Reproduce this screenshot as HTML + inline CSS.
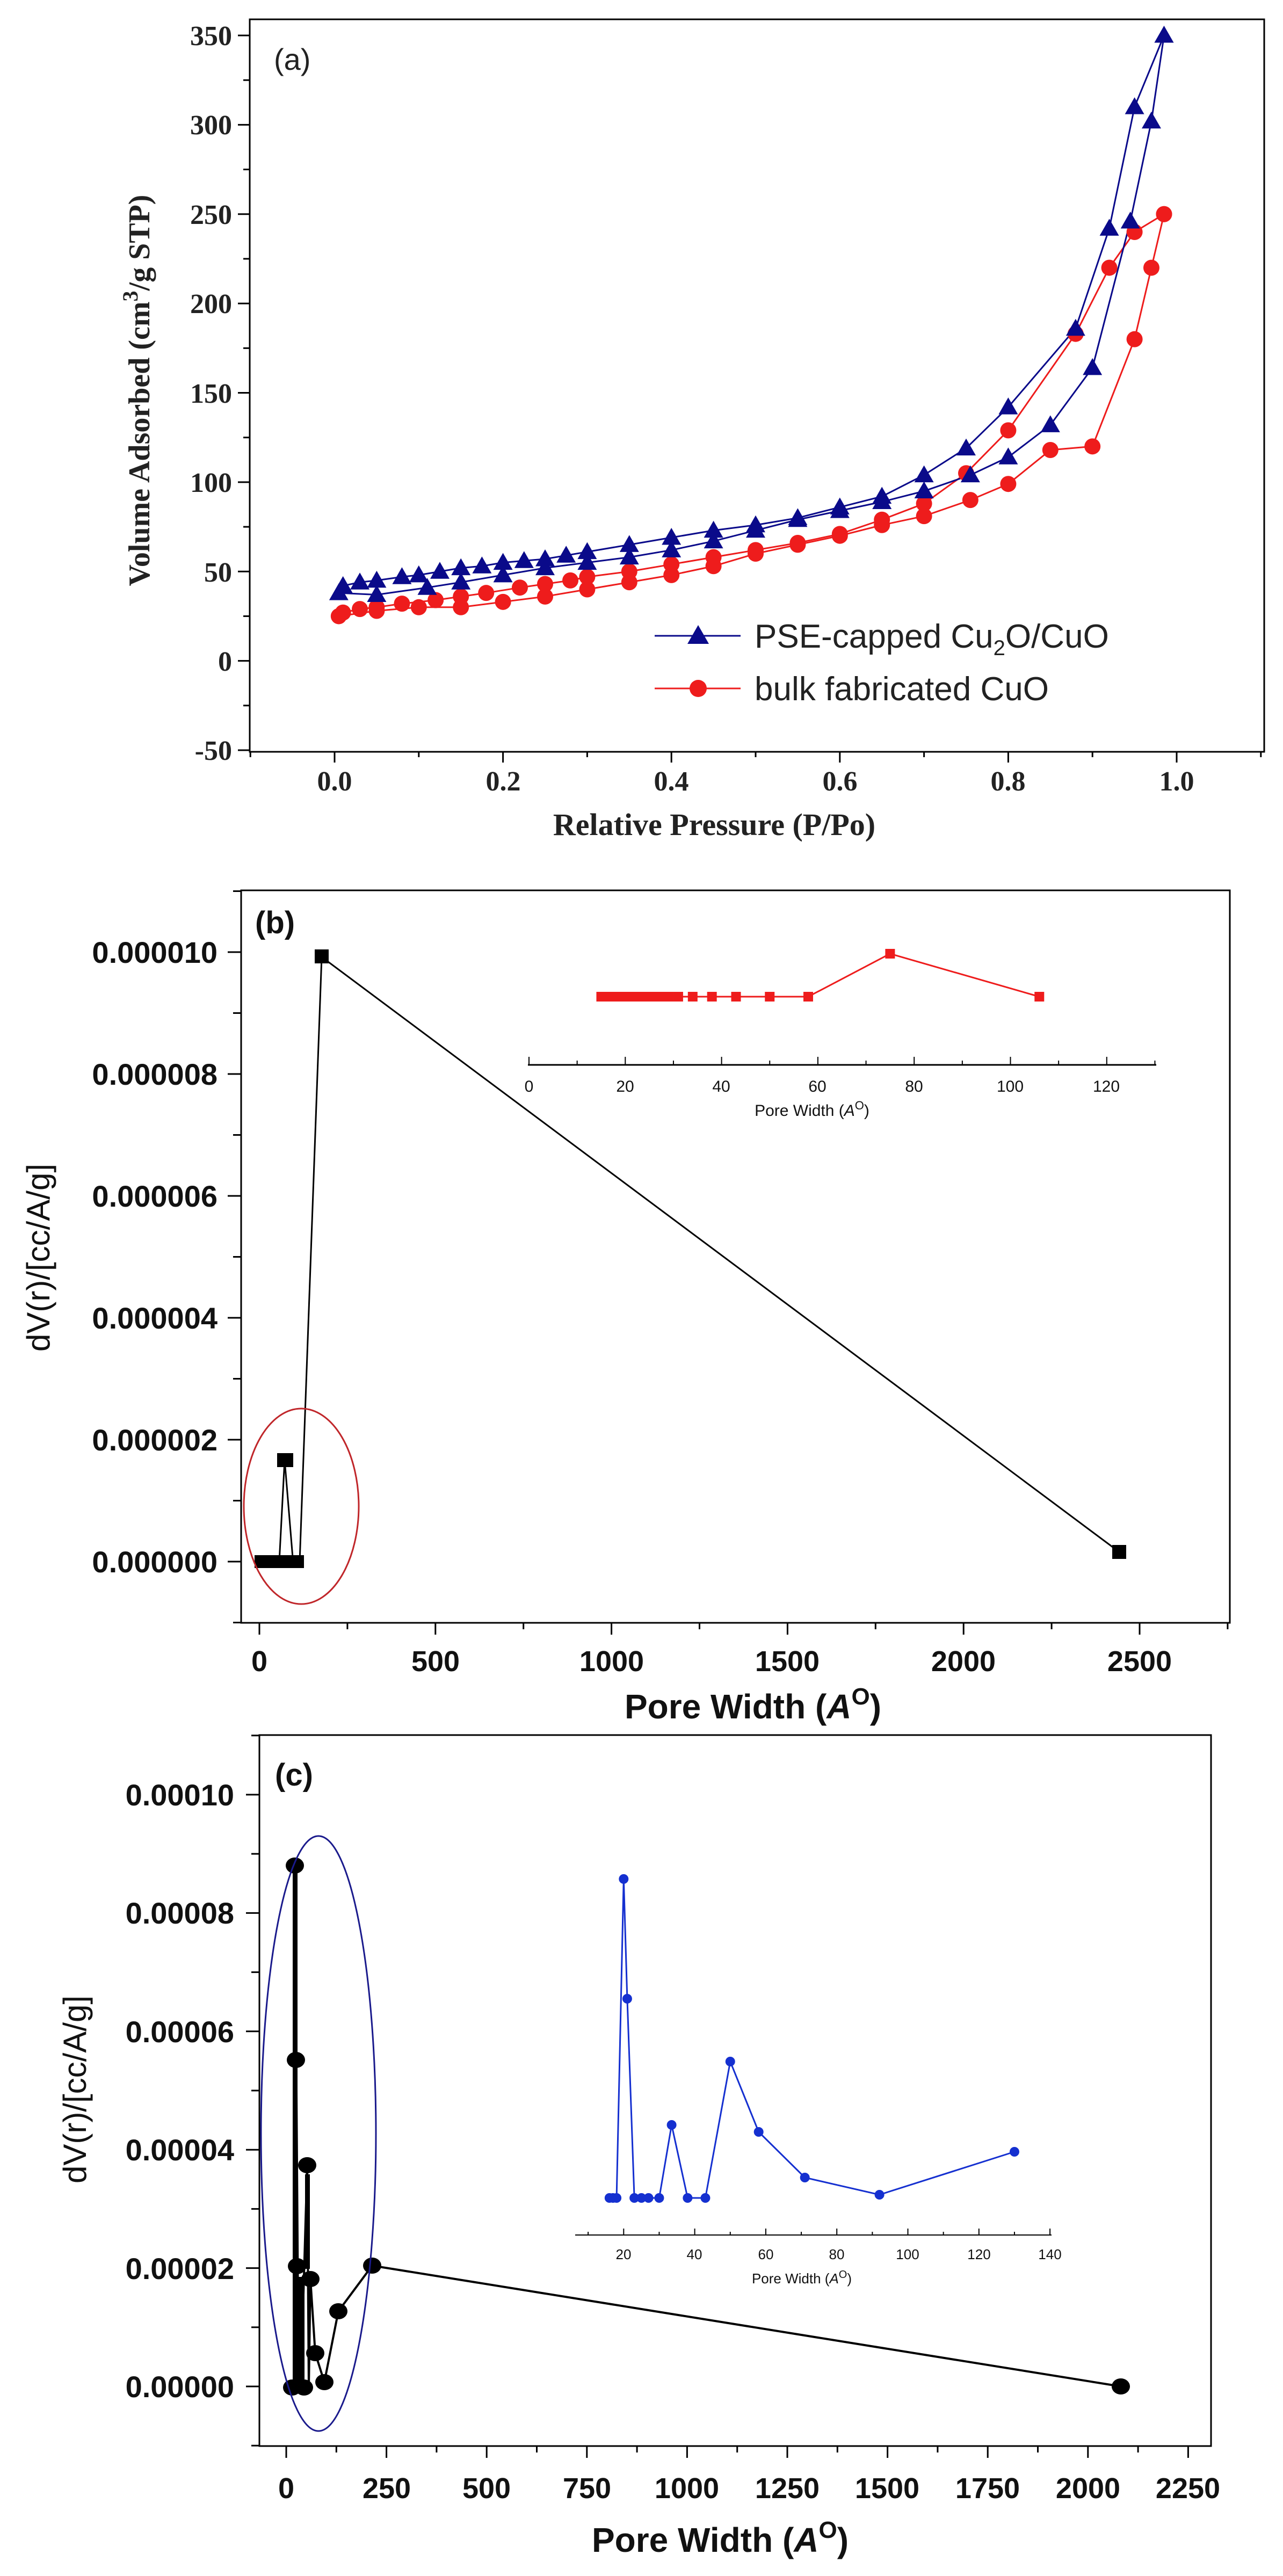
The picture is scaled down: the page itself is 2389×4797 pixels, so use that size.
<!DOCTYPE html>
<html><head><meta charset="utf-8">
<style>
html,body{margin:0;padding:0;background:#fff;}
svg{display:block;}
.serif{font-family:"Liberation Serif",serif;font-weight:bold;}
.sans{font-family:"Liberation Sans",Arial,sans-serif;}
</style></head>
<body>
<svg id="s" width="2389" height="4797" viewBox="0 0 2389 4797" xmlns="http://www.w3.org/2000/svg">
<rect width="2389" height="4797" fill="#fff"/>
<g id="g"></g>
<!-- Panel a text -->
<g class="serif" font-size="52" text-anchor="end" fill="#222">
<text x="432" y="84">350</text><text x="432" y="250">300</text><text x="432" y="417">250</text>
<text x="432" y="583">200</text><text x="432" y="750">150</text><text x="432" y="916">100</text>
<text x="432" y="1083">50</text><text x="432" y="1249">0</text><text x="432" y="1415">-50</text>
</g>
<g class="serif" font-size="52" text-anchor="middle" fill="#222">
<text x="623" y="1472">0.0</text><text x="937" y="1472">0.2</text><text x="1250" y="1472">0.4</text>
<text x="1564" y="1472">0.6</text><text x="1877" y="1472">0.8</text><text x="2191" y="1472">1.0</text>
</g>
<text class="serif" x="1330" y="1555" font-size="58" text-anchor="middle" fill="#222">Relative Pressure (P/Po)</text>
<text class="serif" transform="translate(278,727) rotate(-90)" font-size="56" text-anchor="middle" fill="#222">Volume Adsorbed (cm<tspan dy="-22" font-size="40">3</tspan><tspan dy="22">/g STP)</tspan></text>
<text class="sans" x="510" y="130" font-size="56" fill="#222">(a)</text>
<text class="sans" x="1405" y="1206" font-size="62" fill="#222">PSE-capped Cu<tspan dy="14" font-size="40">2</tspan><tspan dy="-14">O/CuO</tspan></text>
<text class="sans" x="1405" y="1304" font-size="62" fill="#222">bulk fabricated CuO</text>

<!-- Panel b text -->
<g class="sans" font-size="56" font-weight="bold" text-anchor="end" fill="#111">
<text x="405" y="1793">0.000010</text><text x="405" y="2020">0.000008</text><text x="405" y="2247">0.000006</text>
<text x="405" y="2474">0.000004</text><text x="405" y="2701">0.000002</text><text x="405" y="2928">0.000000</text>
</g>
<g class="sans" font-size="54" font-weight="bold" text-anchor="middle" fill="#111">
<text x="483" y="3112">0</text><text x="811" y="3112">500</text><text x="1139" y="3112">1000</text>
<text x="1466" y="3112">1500</text><text x="1794" y="3112">2000</text><text x="2122" y="3112">2500</text>
</g>
<text class="sans" x="1402" y="3200" font-size="64" font-weight="bold" text-anchor="middle" fill="#111">Pore Width (<tspan font-style="italic">A</tspan><tspan dy="-26" font-size="44">O</tspan><tspan dy="26">)</tspan></text>
<text class="sans" transform="translate(92,2342) rotate(-90)" font-size="60" text-anchor="middle" fill="#111">dV(r)/[cc/A/g]</text>
<text class="sans" x="475" y="1738" font-size="58" font-weight="bold" fill="#111">(b)</text>
<g class="sans" font-size="30" text-anchor="middle" fill="#111">
<text x="985" y="2033">0</text><text x="1164" y="2033">20</text><text x="1343" y="2033">40</text>
<text x="1522" y="2033">60</text><text x="1702" y="2033">80</text><text x="1881" y="2033">100</text><text x="2060" y="2033">120</text>
<text x="1512" y="2078">Pore Width (<tspan font-style="italic">A</tspan><tspan dy="-12" font-size="22">O</tspan><tspan dy="12">)</tspan></text>
</g>

<!-- Panel c text -->
<g class="sans" font-size="56" font-weight="bold" text-anchor="end" fill="#111">
<text x="436" y="3362">0.00010</text><text x="436" y="3582">0.00008</text><text x="436" y="3803">0.00006</text>
<text x="436" y="4023">0.00004</text><text x="436" y="4244">0.00002</text><text x="436" y="4464">0.00000</text>
</g>
<g class="sans" font-size="54" font-weight="bold" text-anchor="middle" fill="#111">
<text x="533" y="4652">0</text><text x="720" y="4652">250</text><text x="906" y="4652">500</text>
<text x="1093" y="4652">750</text><text x="1279" y="4652">1000</text><text x="1466" y="4652">1250</text>
<text x="1652" y="4652">1500</text><text x="1839" y="4652">1750</text><text x="2026" y="4652">2000</text><text x="2212" y="4652">2250</text>
</g>
<text class="sans" x="1341" y="4752" font-size="64" font-weight="bold" text-anchor="middle" fill="#111">Pore Width (<tspan font-style="italic">A</tspan><tspan dy="-26" font-size="44">O</tspan><tspan dy="26">)</tspan></text>
<text class="sans" transform="translate(160,3891) rotate(-90)" font-size="60" text-anchor="middle" fill="#111">dV(r)/[cc/A/g]</text>
<text class="sans" x="512" y="3325" font-size="58" font-weight="bold" fill="#111">(c)</text>
<g class="sans" font-size="26" text-anchor="middle" fill="#111">
<text x="1161" y="4207">20</text><text x="1293" y="4207">40</text><text x="1426" y="4207">60</text>
<text x="1558" y="4207">80</text><text x="1690" y="4207">100</text><text x="1823" y="4207">120</text><text x="1955" y="4207">140</text>
<text x="1493" y="4252">Pore Width (<tspan font-style="italic">A</tspan><tspan dy="-10" font-size="20">O</tspan><tspan dy="10">)</tspan></text>
</g>
</svg>
<script>
(function(){
var NS="http://www.w3.org/2000/svg",g=document.getElementById("g");
function el(n,a){var e=document.createElementNS(NS,n);for(var k in a)e.setAttribute(k,a[k]);g.appendChild(e);return e;}
function line(x1,y1,x2,y2,c,w){el("line",{x1:x1,y1:y1,x2:x2,y2:y2,stroke:c||"#000","stroke-width":w||3});}
function poly(pts,c,w){el("polyline",{points:pts.map(function(p){return p[0]+","+p[1];}).join(" "),fill:"none",stroke:c,"stroke-width":w});}
// ---------- Panel a
var ax=function(p){return 623+p*1568;}, ay=function(v){return 66+(350-v)*3.3275;};
el("rect",{x:465,y:36,width:1889,height:1364,fill:"none",stroke:"#000","stroke-width":3});
for(var v=-50;v<=350;v+=25){var m=(v%50===0);line(465,ay(v),m?443:453,ay(v),"#000",3);}
for(var i=-1;i<=11;i++){var p=i/10,m=(i%2===0)&&i>=0;line(ax(p),1400,ax(p),m?1420:1410,"#000",3);}
var bU=[[0.01,42],[0.03,44],[0.05,45],[0.08,47],[0.1,48],[0.125,50],[0.15,52],[0.175,53],[0.2,55],[0.225,56],[0.25,57],[0.275,59],[0.3,61],[0.35,65],[0.4,69],[0.45,73],[0.5,76],[0.55,80],[0.6,86],[0.65,92],[0.7,104],[0.75,119],[0.8,142],[0.88,186],[0.92,242],[0.95,310],[0.985,350]];
var bL=[[0.005,38],[0.05,37],[0.11,41],[0.15,44],[0.2,48],[0.25,52],[0.3,55],[0.35,58],[0.4,62],[0.45,67],[0.5,73],[0.55,79],[0.6,84],[0.65,89],[0.7,95],[0.755,104],[0.8,114],[0.85,132],[0.9,164],[0.945,246],[0.97,302],[0.985,350]];
var rU=[[0.01,27],[0.03,29],[0.05,30],[0.08,32],[0.12,34],[0.15,36],[0.18,38],[0.22,41],[0.25,43],[0.28,45],[0.3,47],[0.35,50],[0.4,54],[0.45,58],[0.5,62],[0.55,66],[0.6,71],[0.65,79],[0.7,88],[0.75,105],[0.8,129],[0.88,183],[0.92,220],[0.95,240],[0.985,250]];
var rL=[[0.005,25],[0.05,28],[0.1,30],[0.15,30],[0.2,33],[0.25,36],[0.3,40],[0.35,44],[0.4,48],[0.45,53],[0.5,60],[0.55,65],[0.6,70],[0.65,76],[0.7,81],[0.755,90],[0.8,99],[0.85,118],[0.9,120],[0.95,180],[0.97,220],[0.985,250]];
var BL="#0a0a8a",RD="#ee1c1c";
function mp(a){return a.map(function(d){return [ax(d[0]),ay(d[1])];});}
poly(mp(rU),RD,3);poly(mp(rL),RD,3);poly(mp(bU),BL,3);poly(mp(bL),BL,3);
function tri(x,y,s,c){el("polygon",{points:x+","+(y-s)+" "+(x-s)+","+(y+s*0.75)+" "+(x+s)+","+(y+s*0.75),fill:c});}
mp(rU).concat(mp(rL)).forEach(function(p){el("circle",{cx:p[0],cy:p[1],r:15,fill:RD});});
mp(bU).concat(mp(bL)).forEach(function(p){tri(p[0],p[1],18,BL);});
line(1219,1184,1379,1184,BL,3);tri(1300,1184,20,BL);
line(1219,1282,1379,1282,RD,3);el("circle",{cx:1300,cy:1282,r:16,fill:RD});
// ---------- Panel b
var bx=function(w){return 483+w*0.6556;}, by=function(v){return 2908-v*113.5;};
el("rect",{x:449,y:1658,width:1841,height:1364,fill:"none",stroke:"#000","stroke-width":3});
for(var v=-1;v<=11;v++){var m=(v%2===0)&&v>=0;line(449,by(v),m?424:434,by(v),"#000",3);}
for(var w=0;w<=2750;w+=250){var m=(w%500===0);line(bx(w),3022,bx(w),m?3044:3034,"#000",3);}
el("polyline",{points:"474,2908 520,2908 530,2719 545,2900 558,2908 599,1782 2084,2890",fill:"none",stroke:"#000","stroke-width":3});
el("rect",{x:474,y:2896,width:92,height:24,fill:"#000"});
el("rect",{x:516,y:2706,width:30,height:26,fill:"#000"});
el("rect",{x:586,y:1768,width:26,height:26,fill:"#000"});
el("rect",{x:2071,y:2877,width:26,height:26,fill:"#000"});
el("ellipse",{cx:561,cy:2805,rx:107,ry:182,fill:"none",stroke:"#c0262a","stroke-width":3});
// inset b
line(983,1983,2153,1983,"#000",3);
for(var x=0;x<=130;x+=10){line(985+x*8.965,1983,985+x*8.965,(x%20===0)?1968:1975,"#000",2);}
var ib=[15,16,17,18,19,20,21,22,23,24,25,26,27,29,31,34,38,43,50,58,75,106];
var ibp=ib.map(function(x){return [985+x*8.965,x===75?1776:1856];});
poly(ibp,RD,3);ibp.forEach(function(p){el("rect",{x:p[0]-9,y:p[1]-9,width:18,height:18,fill:RD});});
// ---------- Panel c
var cx=function(w){return 533+w*0.7464;}, cy=function(v){return 4444-v*110.2;};
el("rect",{x:483,y:3231,width:1772,height:1324,fill:"none",stroke:"#000","stroke-width":3});
for(var v=-1;v<=11;v++){var m=(v%2===0)&&v>=0;line(483,cy(v),m?458:468,cy(v),"#000",3);}
for(var w=0;w<=2250;w+=125){var m=(w%250===0);line(cx(w),4555,cx(w),m?4577:4567,"#000",3);}
el("rect",{x:545,y:3480,width:9,height:965,fill:"#000"});
el("rect",{x:553,y:4240,width:14,height:205,fill:"#000"});
el("rect",{x:568,y:4049,width:9,height:176,fill:"#000"});
el("polyline",{points:"556,4446 549,3474 551,3836 553,4446 553,4220 560,4446 572,4032 575,4446 578,4244 587,4382 604,4436 630,4304 693,4219 2087,4444",fill:"none",stroke:"#000","stroke-width":4});
[[549,3474],[551,3836],[572,4032],[553,4220],[578,4244],[630,4304],[587,4382],[604,4436],[544,4446],[566,4446],[693,4219],[2087,4444]].forEach(function(p){el("ellipse",{cx:p[0],cy:p[1],rx:17,ry:15,fill:"#000"});});
el("ellipse",{cx:593,cy:3973,rx:107,ry:554,fill:"none",stroke:"#1a1a8c","stroke-width":3});
// inset c
line(1071,4162,1958,4162,"#000",2);
for(var x=10;x<=140;x+=10){line(1029+x*6.615,4162,1029+x*6.615,(x%20===0)?4150:4156,"#000",2);}
var ic=[[16,0],[17,0],[18,0],[20,3499],[21,3722],[23,0],[25,0],[27,0],[30,0],[33.5,3957],[38,0],[43,0],[50,3839],[58,3970],[71,4055],[92,4087],[130,4007]];
var icp=ic.map(function(d){return [1029+d[0]*6.615,d[1]||4093];});
poly(icp,"#1530d0",3);icp.forEach(function(p){el("circle",{cx:p[0],cy:p[1],r:9,fill:"#1530d0"});});
})();
</script>
</body></html>
